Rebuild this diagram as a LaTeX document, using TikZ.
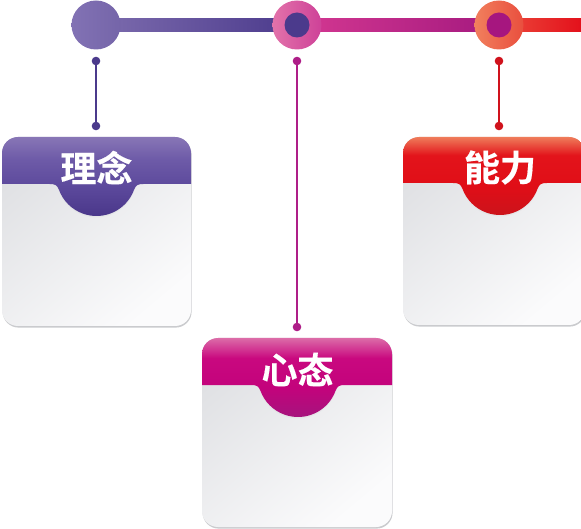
\documentclass[tikz,border=0pt]{standalone}
\usepackage{fontspec}
\newfontfamily\cjkb[FakeBold=0.4]{Noto Sans CJK SC Bold}
\definecolor{pA}{HTML}{8876B6}\definecolor{pM}{HTML}{6E5BA8}\definecolor{pB}{HTML}{5C499C}\definecolor{pC}{HTML}{473487}
\definecolor{mA}{HTML}{DC6CA8}\definecolor{mM}{HTML}{C9087F}\definecolor{mB}{HTML}{C3037C}\definecolor{mC}{HTML}{A1167D}
\definecolor{rA}{HTML}{EF7C5A}\definecolor{rM}{HTML}{E3141B}\definecolor{rB}{HTML}{E00E17}\definecolor{rC}{HTML}{C8141C}
\definecolor{bodyA}{HTML}{E0E1E4}\definecolor{bodyB}{HTML}{FBFBFC}
\definecolor{shadowc}{HTML}{CACBCE}
\definecolor{linep}{HTML}{4B3A8C}\definecolor{linem}{HTML}{AE1E88}\definecolor{liner}{HTML}{D0121C}
\definecolor{barA}{HTML}{7D6CAE}
\definecolor{barB}{HTML}{D43891}\definecolor{barC}{HTML}{C4007A}\definecolor{barD}{HTML}{A4197F}
\definecolor{barE}{HTML}{EC4A3C}\definecolor{barF}{HTML}{E3101B}
\definecolor{cirA}{HTML}{8272B4}\definecolor{cirB}{HTML}{7565A9}
\definecolor{cirC}{HTML}{E272AA}\definecolor{cirD}{HTML}{CE4298}
\definecolor{cirE}{HTML}{F1805D}\definecolor{cirF}{HTML}{E94E3E}
\definecolor{innerm}{HTML}{A6167F}
% vertical shadings: 25bp = bottom of notch, 75bp = top of card
\pgfdeclareverticalshading{hdrp}{100bp}{color(0bp)=(pC); color(25bp)=(pC); color(45.5bp)=(pB); color(62bp)=(pM); color(75bp)=(pA); color(100bp)=(pA)}
\pgfdeclareverticalshading{hdrm}{100bp}{color(0bp)=(mC); color(25bp)=(mC); color(45.5bp)=(mB); color(63bp)=(mM); color(75bp)=(mA); color(100bp)=(mA)}
\pgfdeclareverticalshading{hdrr}{100bp}{color(0bp)=(rC); color(25bp)=(rC); color(45.5bp)=(rB); color(64bp)=(rM); color(75bp)=(rA); color(100bp)=(rA)}
\tikzset{
  dotnode/.style={circle,inner sep=0pt,minimum size=8.6pt,fill=#1},
  vline/.style={line width=2.2pt,draw=#1},
  cardtitle/.style={text=white,font=\cjkb\fontsize{36}{36}\selectfont,inner sep=0pt},
  bignode/.style={circle,inner sep=0pt,minimum size=49pt},
  smallnode/.style={circle,inner sep=0pt,minimum size=25pt,fill=#1},
}
% #1 x1, #2 x2, #3 top, #4 bottom, #5 header bottom, #6 centre x, #7 shading name
\newcommand{\mycardbox}[7]{%
  \fill[shadowc,rounded corners=16pt] (#1+0.6,-#3-1.6) rectangle (#2+0.6,-#4-1.6);
  \shade[top color=bodyA,bottom color=bodyB,shading angle=40,rounded corners=16pt]
     (#1,-#3) rectangle (#2,-#4);
  \fill[shadowc!60,opacity=0.5] (#6-46,-#5) .. controls (#6-41,-#5) and (#6-39.5,-#5-1.2) ..
     (#6-37.59,-#5-5.68-1.5) arc[start angle=200,end angle=340,radius=40pt] .. controls (#6+39.5,-#5-1.2) and (#6+41,-#5) .. (#6+46,-#5) -- cycle;
  \shade[shading=#7]
     (#1,-#5) -- (#1,-#3-16) arc[start angle=180,end angle=90,radius=16pt]
     -- (#2-16,-#3) arc[start angle=90,end angle=0,radius=16pt]
     -- (#2,-#5) -- (#6+47,-#5)
     .. controls (#6+41,-#5) and (#6+39.5,-#5-1.2) .. (#6+37.59,-#5-5.68)
     arc[start angle=340,end angle=200,radius=40pt]
     .. controls (#6-39.5,-#5-1.2) and (#6-41,-#5) .. (#6-47,-#5) -- cycle;
}
\begin{document}
\begin{tikzpicture}[x=1pt,y=1pt]
\useasboundingbox (0,0) rectangle (581,-529);
\clip (0,0) rectangle (581,-529);
% cards
\mycardbox{2}{191}{137}{326}{184}{96.5}{hdrp}
\mycardbox{202}{392}{338}{527}{385}{298}{hdrm}
\mycardbox{403}{585}{137}{325}{183}{500}{hdrr}
\node[cardtitle] (t1) at (96.5,-167.5) {理念};
\node[cardtitle] (t2) at (297.5,-369.5) {心态};
\node[cardtitle] (t3) at (500,-167.5) {能力};
% top bar
\shade[left color=barA,right color=linep] (96,-18.5) rectangle (297,-31.5);
\shade[left color=barB,middle color=barC,right color=barD] (297,-18.5) rectangle (499,-31.5);
\shade[left color=barE,right color=barF] (499,-18.5) rectangle (582,-31.5);
\node[bignode,left color=cirA,right color=cirB] (c1) at (96,-25) {};
\node[bignode,left color=cirC,right color=cirD] (c2) at (297,-25) {};
\node[smallnode=linep] (c2i) at (297,-25) {};
\node[bignode,left color=cirE,right color=cirF] (c3) at (499,-25) {};
\node[smallnode=innerm] (c3i) at (499,-25) {};
% connectors
\node[dotnode=linep] (d1a) at (96,-61) {};
\node[dotnode=linep] (d1b) at (96,-126) {};
\node[dotnode=linem] (d2a) at (297,-61) {};
\node[dotnode=linem] (d2b) at (297,-327) {};
\node[dotnode=liner] (d3a) at (499,-61) {};
\node[dotnode=liner] (d3b) at (499,-126) {};
\draw[vline=linep] (d1a.center) -- (d1b.center);
\draw[vline=linem] (d2a.center) -- (d2b.center);
\draw[vline=liner] (d3a.center) -- (d3b.center);
\end{tikzpicture}
\end{document}
